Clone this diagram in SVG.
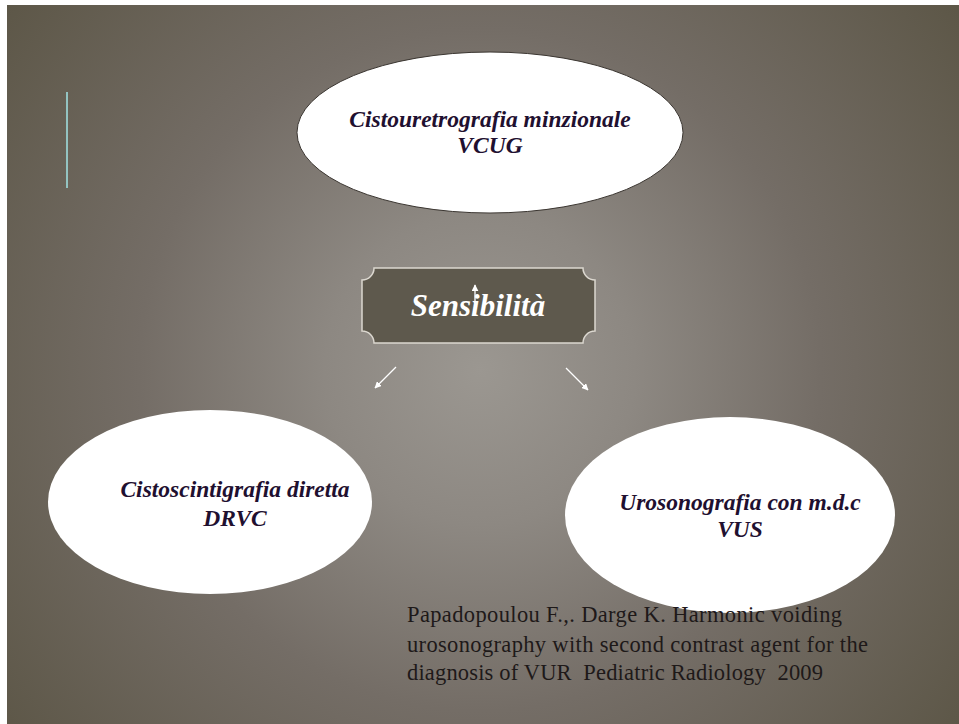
<svg xmlns="http://www.w3.org/2000/svg" width="959" height="724" viewBox="0 0 959 724">
  <defs>
    <radialGradient id="bg" cx="480" cy="370" r="620" gradientUnits="userSpaceOnUse">
      <stop offset="0" stop-color="#9b9791"/>
      <stop offset="0.25" stop-color="#8d8882"/>
      <stop offset="0.55" stop-color="#746d66"/>
      <stop offset="1" stop-color="#5b5545"/>
    </radialGradient>
    <marker id="head" viewBox="0 0 10 10" refX="9" refY="5" markerWidth="7" markerHeight="7" orient="auto" markerUnits="userSpaceOnUse">
      <path d="M0,0 L10,5 L0,10 Z" fill="#ffffff"/>
    </marker>
    <style>
      .oval { fill: #ffffff; }
      .lbl { font-family: "Liberation Serif", "Times New Roman", serif; font-weight: bold; font-style: italic; font-size: 23.5px; fill: #1f1030; text-anchor: middle; }
      .cite { font-family: "Liberation Serif", "Times New Roman", serif; font-size: 22.5px; fill: #1e1919; white-space: pre; }
      .conn { stroke: #ffffff; stroke-width: 1.3; fill: none; marker-end: url(#head); }
    </style>
  </defs>

  <!-- page and slide background -->
  <rect x="0" y="0" width="959" height="724" fill="#ffffff"/>
  <rect x="7" y="5" width="952" height="719" fill="url(#bg)"/>
  <line x1="67" y1="92" x2="67" y2="188" stroke="#93c3c1" stroke-width="2"/>

  <g id="vcug">
    <ellipse class="oval" cx="490" cy="132.5" rx="193" ry="80.5" stroke="#3a3530" stroke-width="1"/>
    <text class="lbl" x="490" y="127">Cistouretrografia minzionale</text>
    <text class="lbl" x="490" y="153">VCUG</text>
  </g>

  <g id="drvc">
    <ellipse class="oval" cx="210" cy="502" rx="162" ry="92"/>
    <text class="lbl" x="235" y="497">Cistoscintigrafia diretta</text>
    <text class="lbl" x="235" y="526">DRVC</text>
  </g>

  <g id="vus">
    <ellipse class="oval" cx="730" cy="515" rx="165" ry="98"/>
    <text class="lbl" x="740" y="510">Urosonografia con m.d.c</text>
    <text class="lbl" x="740" y="537">VUS</text>
  </g>

  <g id="sensibilita">
    <path d="M374,268 H583 A12,12 0 0 0 595,280 V331 A12,12 0 0 0 583,343 H374 A12,12 0 0 0 362,331 V280 A12,12 0 0 0 374,268 Z" fill="#5e594d" stroke="#dcd8d0" stroke-width="1.5"/>
    <text x="478" y="316" font-family="'Liberation Serif', 'Times New Roman', serif" font-weight="bold" font-style="italic" font-size="31" fill="#ffffff" text-anchor="middle">Sensibilità</text>
  </g>

  <g id="connectors">
    <line class="conn" x1="475" y1="303" x2="475" y2="285"/>
    <line class="conn" x1="396" y1="367" x2="375" y2="388"/>
    <line class="conn" x1="566" y1="368" x2="588" y2="390"/>
  </g>

  <g id="citation">
    <text class="cite" x="407" y="622" textLength="435" lengthAdjust="spacing">Papadopoulou F.,. Darge K. Harmonic voiding</text>
    <text class="cite" x="407" y="652" textLength="461" lengthAdjust="spacing">urosonography with second contrast agent for the</text>
    <text class="cite" x="407" y="680" textLength="416" lengthAdjust="spacing">diagnosis of VUR  Pediatric Radiology  2009</text>
  </g>
</svg>
